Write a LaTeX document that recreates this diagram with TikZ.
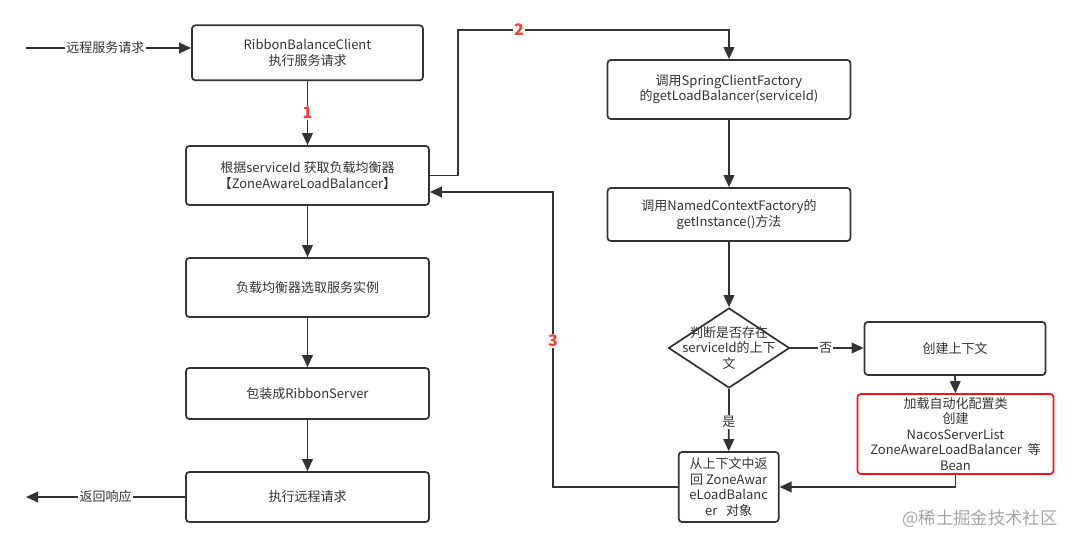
\documentclass[tikz,border=0pt]{standalone}
\usepackage{fontspec}
\setmainfont{Noto Sans CJK SC}
\usetikzlibrary{arrows.meta,shapes.geometric}
\definecolor{ln}{HTML}{333333}
\definecolor{rednum}{HTML}{E5453A}
\definecolor{redbox}{HTML}{F0141E}
\tikzset{
  box/.style={draw=ln, line width=1.3pt, rounded corners=2.5pt, fill=white, inner sep=0pt, align=center, text=ln, font=\fontsize{9.75pt}{11.6pt}\selectfont},
  redb/.style={box, draw=redbox},
  txt/.style={inner sep=0pt, align=center, text=ln, font=\fontsize{9.75pt}{11.6pt}\selectfont},
  lbl/.style={fill=white, inner sep=1pt, text=ln, font=\fontsize{9.75pt}{11.6pt}\selectfont},
  num/.style={fill=white, inner sep=1pt, text=rednum, font=\fontsize{12pt}{13pt}\selectfont\bfseries},
  conn/.style={draw=ln, line width=1.3pt, -{Triangle[length=9pt,width=8pt]}},
  plain/.style={draw=ln, line width=1.3pt}
}
\begin{document}
\begin{tikzpicture}[x=0.75pt,y=-0.75pt]
\path[use as bounding box, fill=white] (0,0) rectangle (1078,547);

% left column
\node[box, minimum width=173.25pt, minimum height=41.25pt] (B1) at (307.5,52.8) {RibbonBalanceClient\\执行服务请求};
\node[box, minimum width=182.25pt, minimum height=44.25pt] (B2) at (307.5,175.5) {根据serviceId 获取负载均衡器\\【ZoneAwareLoadBalancer】};
\node[box, minimum width=182.25pt, minimum height=44.25pt] (B3) at (307.5,287.5) {负载均衡器选取服务实例};
\node[box, minimum width=182.25pt, minimum height=38.25pt] (B4) at (307.5,393.5) {包装成RibbonServer};
\node[box, minimum width=182.25pt, minimum height=37.5pt] (B5) at (307.5,497) {执行远程请求};

% right column
\node[box, minimum width=182.25pt, minimum height=44.25pt] (R1) at (729,89.5) {调用SpringClientFactory\\的getLoadBalancer(serviceId)};
\node[box, minimum width=182.25pt, minimum height=39.75pt] (R2) at (729,214.5) {调用NamedContextFactory的\\getInstance()方法};
\node[diamond, draw=ln, line width=1.3pt, fill=white, minimum width=90.75pt, minimum height=60pt, inner sep=0pt] (D) at (729,348) {};
\node[txt] (Dt) at (D.center) {判断是否存在\\serviceId的上下\\文};
\node[box, minimum width=135.75pt, minimum height=39.75pt] (R3) at (955,348.5) {创建上下文};
\node[redb, minimum width=147pt, minimum height=60pt] (RB) at (955.5,434) {加载自动化配置类\\创建\\NacosServerList\\ZoneAwareLoadBalancer\ \ 等\\Bean};
\node[box, minimum width=75pt, minimum height=52.5pt] (BN) at (728.7,487) {从上下文中返\\回 ZoneAwar\\eLoadBalanc\\er\ \ \ 对象};

% free ends
\coordinate (inS) at (26,48);
\coordinate (outE) at (26,497);
\coordinate (c2) at (458,30);
\coordinate (c3) at (553,192);

% connectors
\draw[conn] (inS) -- node[lbl, pos=0.48] {远程服务请求} (inS -| B1.west);
\draw[conn] (B5.west) -- node[lbl, pos=0.5] {返回响应} (outE);
\draw[conn] (B1.south) -- node[num] {1} (B2.north);
\draw[conn] (B2.south) -- (B3.north);
\draw[conn] (B3.south) -- (B4.north);
\draw[conn] (B4.south) -- (B5.north);
\draw[conn] (B2.east) -| (c2) -| node[num, pos=0.1125] {2} (R1.north);
\draw[conn] (R1.south) -- (R2.north);
\draw[conn] (R2.south) -- (D.north);
\draw[conn] (D.east) -- node[lbl, pos=0.48] {否} (D.east -| R3.west);
\draw[conn] (R3.south) -- (RB.north);
\draw[conn] (D.south) -- node[lbl, pos=0.53] {是} (BN.north);
\draw[conn] (RB.south) |- (BN.east);
\draw[conn] (BN.west) -| node[num, pos=0.7475] {3} (c3) -- (c3 -| B2.east);

% watermark
\node[inner sep=0pt, text=black!35, font=\fontsize{13pt}{14pt}\selectfont] (wm) at (980,519) {@稀土掘金技术社区};
\end{tikzpicture}
\end{document}
